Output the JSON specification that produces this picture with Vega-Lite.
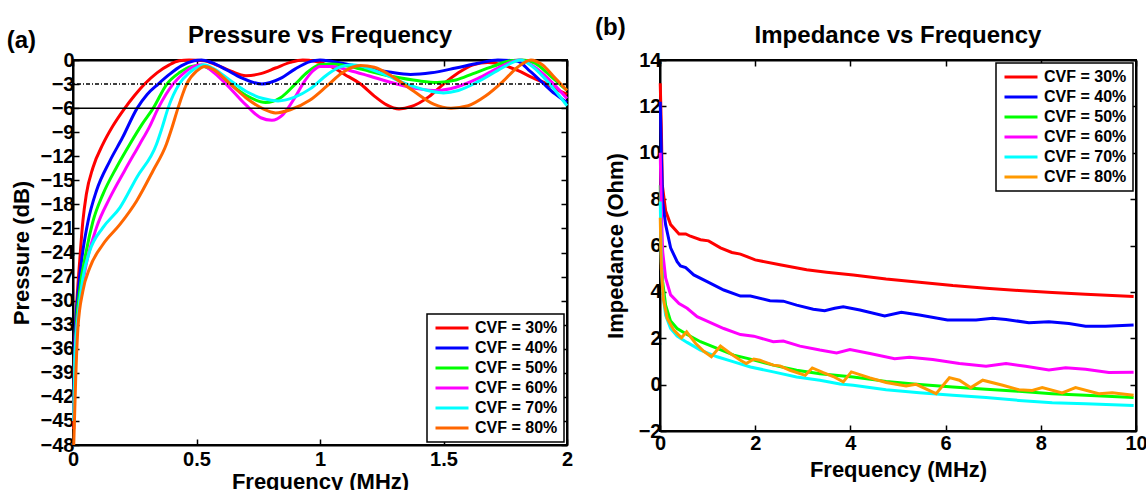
{
  "$schema": "https://vega.github.io/schema/vega-lite/v6.json",
  "background": "white",
  "padding": {"left": 5, "top": 14, "right": 0, "bottom": 0},
  "spacing": 19,
  "config": {
    "font": "Liberation Sans",
    "view": {"stroke": "black", "strokeWidth": 2},
    "axis": {"grid": false, "domainColor": "black", "domainWidth": 2, "tickColor": "black", "tickWidth": 1.5, "tickSize": -6, "labelFontSize": 20, "labelFontWeight": "bold", "labelColor": "black", "labelPadding": 5, "titleFontSize": 22, "titleFontWeight": "bold", "titleColor": "black", "titlePadding": 7, "labelFlush": false, "labelOverlap": false},
    "legend": {"strokeColor": "black", "fillColor": "white", "padding": 6, "symbolType": "M-1,0H5", "symbolSize": 121, "symbolStrokeWidth": 3, "labelFontSize": 16, "labelFontWeight": "bold", "labelColor": "black", "rowPadding": 4, "labelOffset": 26, "offset": 3, "strokeWidth": 1.5}
  },
  "datasets": {
    "labA": [{"label": "(a)"}],
    "labB": [{"label": "(b)"}],
    "titA": [{"label": "Pressure vs Frequency"}],
    "titB": [{"label": "Impedance vs Frequency"}],
    "refs": [{"db": -3, "kind": "dash"}, {"db": -6, "kind": "solid"}],
    "pressure": [
      {"cvf": "CVF = 30%", "f": 0.003, "db": -46}, {"cvf": "CVF = 30%", "f": 0.005, "db": -37.5}, {"cvf": "CVF = 30%", "f": 0.0135, "db": -31.3}, {"cvf": "CVF = 30%", "f": 0.027, "db": -25.1}, {"cvf": "CVF = 30%", "f": 0.04, "db": -20.1}, {"cvf": "CVF = 30%", "f": 0.054, "db": -16.75}, {"cvf": "CVF = 30%", "f": 0.081, "db": -13.4}, {"cvf": "CVF = 30%", "f": 0.121, "db": -10.5}, {"cvf": "CVF = 30%", "f": 0.16, "db": -8.3}, {"cvf": "CVF = 30%", "f": 0.21, "db": -6.0}, {"cvf": "CVF = 30%", "f": 0.25, "db": -4.4}, {"cvf": "CVF = 30%", "f": 0.29, "db": -3.0}, {"cvf": "CVF = 30%", "f": 0.34, "db": -1.6}, {"cvf": "CVF = 30%", "f": 0.39, "db": -0.6}, {"cvf": "CVF = 30%", "f": 0.43, "db": -0.1}, {"cvf": "CVF = 30%", "f": 0.47, "db": 0}, {"cvf": "CVF = 30%", "f": 0.53, "db": -0.1}, {"cvf": "CVF = 30%", "f": 0.58, "db": -0.6}, {"cvf": "CVF = 30%", "f": 0.64, "db": -1.4}, {"cvf": "CVF = 30%", "f": 0.70, "db": -1.95}, {"cvf": "CVF = 30%", "f": 0.76, "db": -1.7}, {"cvf": "CVF = 30%", "f": 0.82, "db": -1.0}, {"cvf": "CVF = 30%", "f": 0.88, "db": -0.3}, {"cvf": "CVF = 30%", "f": 0.93, "db": 0}, {"cvf": "CVF = 30%", "f": 0.98, "db": -0.15}, {"cvf": "CVF = 30%", "f": 1.05, "db": -0.9}, {"cvf": "CVF = 30%", "f": 1.10, "db": -1.8}, {"cvf": "CVF = 30%", "f": 1.164, "db": -3.0}, {"cvf": "CVF = 30%", "f": 1.22, "db": -4.5}, {"cvf": "CVF = 30%", "f": 1.27, "db": -5.6}, {"cvf": "CVF = 30%", "f": 1.32, "db": -6.1}, {"cvf": "CVF = 30%", "f": 1.37, "db": -5.8}, {"cvf": "CVF = 30%", "f": 1.44, "db": -4.6}, {"cvf": "CVF = 30%", "f": 1.50, "db": -3.0}, {"cvf": "CVF = 30%", "f": 1.56, "db": -1.6}, {"cvf": "CVF = 30%", "f": 1.62, "db": -0.6}, {"cvf": "CVF = 30%", "f": 1.68, "db": -0.3}, {"cvf": "CVF = 30%", "f": 1.74, "db": -0.6}, {"cvf": "CVF = 30%", "f": 1.80, "db": -1.3}, {"cvf": "CVF = 30%", "f": 1.86, "db": -2.2}, {"cvf": "CVF = 30%", "f": 1.92, "db": -3.0}, {"cvf": "CVF = 30%", "f": 1.96, "db": -3.7}, {"cvf": "CVF = 30%", "f": 2.0, "db": -4.3},
      {"cvf": "CVF = 40%", "f": 0.003, "db": -44}, {"cvf": "CVF = 40%", "f": 0.007, "db": -35.4}, {"cvf": "CVF = 40%", "f": 0.02, "db": -29.2}, {"cvf": "CVF = 40%", "f": 0.04, "db": -23.8}, {"cvf": "CVF = 40%", "f": 0.061, "db": -20.1}, {"cvf": "CVF = 40%", "f": 0.095, "db": -16.3}, {"cvf": "CVF = 40%", "f": 0.149, "db": -12.6}, {"cvf": "CVF = 40%", "f": 0.2, "db": -9.7}, {"cvf": "CVF = 40%", "f": 0.26, "db": -6.0}, {"cvf": "CVF = 40%", "f": 0.30, "db": -4.3}, {"cvf": "CVF = 40%", "f": 0.345, "db": -3.0}, {"cvf": "CVF = 40%", "f": 0.39, "db": -1.8}, {"cvf": "CVF = 40%", "f": 0.44, "db": -0.7}, {"cvf": "CVF = 40%", "f": 0.49, "db": -0.1}, {"cvf": "CVF = 40%", "f": 0.52, "db": 0}, {"cvf": "CVF = 40%", "f": 0.56, "db": -0.3}, {"cvf": "CVF = 40%", "f": 0.62, "db": -1.2}, {"cvf": "CVF = 40%", "f": 0.68, "db": -2.2}, {"cvf": "CVF = 40%", "f": 0.765, "db": -3.0}, {"cvf": "CVF = 40%", "f": 0.84, "db": -2.3}, {"cvf": "CVF = 40%", "f": 0.90, "db": -1.1}, {"cvf": "CVF = 40%", "f": 0.96, "db": -0.2}, {"cvf": "CVF = 40%", "f": 1.0, "db": 0}, {"cvf": "CVF = 40%", "f": 1.05, "db": -0.2}, {"cvf": "CVF = 40%", "f": 1.12, "db": -0.6}, {"cvf": "CVF = 40%", "f": 1.2, "db": -1.1}, {"cvf": "CVF = 40%", "f": 1.28, "db": -1.5}, {"cvf": "CVF = 40%", "f": 1.366, "db": -1.8}, {"cvf": "CVF = 40%", "f": 1.45, "db": -1.6}, {"cvf": "CVF = 40%", "f": 1.55, "db": -1.0}, {"cvf": "CVF = 40%", "f": 1.64, "db": -0.4}, {"cvf": "CVF = 40%", "f": 1.72, "db": 0}, {"cvf": "CVF = 40%", "f": 1.80, "db": -0.15}, {"cvf": "CVF = 40%", "f": 1.85, "db": -1.4}, {"cvf": "CVF = 40%", "f": 1.90, "db": -2.8}, {"cvf": "CVF = 40%", "f": 1.95, "db": -4.2}, {"cvf": "CVF = 40%", "f": 2.0, "db": -5.3},
      {"cvf": "CVF = 50%", "f": 0.003, "db": -45}, {"cvf": "CVF = 50%", "f": 0.011, "db": -34.6}, {"cvf": "CVF = 50%", "f": 0.027, "db": -28.8}, {"cvf": "CVF = 50%", "f": 0.054, "db": -23.8}, {"cvf": "CVF = 50%", "f": 0.081, "db": -20.1}, {"cvf": "CVF = 50%", "f": 0.121, "db": -16.75}, {"cvf": "CVF = 50%", "f": 0.176, "db": -13.4}, {"cvf": "CVF = 50%", "f": 0.23, "db": -10.5}, {"cvf": "CVF = 50%", "f": 0.28, "db": -8.0}, {"cvf": "CVF = 50%", "f": 0.325, "db": -6.0}, {"cvf": "CVF = 50%", "f": 0.38, "db": -3.0}, {"cvf": "CVF = 50%", "f": 0.43, "db": -1.6}, {"cvf": "CVF = 50%", "f": 0.48, "db": -0.8}, {"cvf": "CVF = 50%", "f": 0.51, "db": -0.7}, {"cvf": "CVF = 50%", "f": 0.56, "db": -1.2}, {"cvf": "CVF = 50%", "f": 0.62, "db": -2.6}, {"cvf": "CVF = 50%", "f": 0.70, "db": -4.4}, {"cvf": "CVF = 50%", "f": 0.78, "db": -5.3}, {"cvf": "CVF = 50%", "f": 0.84, "db": -4.7}, {"cvf": "CVF = 50%", "f": 0.90, "db": -3.0}, {"cvf": "CVF = 50%", "f": 0.95, "db": -1.5}, {"cvf": "CVF = 50%", "f": 1.0, "db": -0.6}, {"cvf": "CVF = 50%", "f": 1.05, "db": -0.5}, {"cvf": "CVF = 50%", "f": 1.12, "db": -0.8}, {"cvf": "CVF = 50%", "f": 1.2, "db": -1.4}, {"cvf": "CVF = 50%", "f": 1.3, "db": -2.1}, {"cvf": "CVF = 50%", "f": 1.4, "db": -2.6}, {"cvf": "CVF = 50%", "f": 1.475, "db": -2.8}, {"cvf": "CVF = 50%", "f": 1.55, "db": -2.5}, {"cvf": "CVF = 50%", "f": 1.62, "db": -1.7}, {"cvf": "CVF = 50%", "f": 1.70, "db": -0.8}, {"cvf": "CVF = 50%", "f": 1.77, "db": -0.1}, {"cvf": "CVF = 50%", "f": 1.82, "db": 0}, {"cvf": "CVF = 50%", "f": 1.87, "db": -0.4}, {"cvf": "CVF = 50%", "f": 1.93, "db": -1.9}, {"cvf": "CVF = 50%", "f": 2.0, "db": -3.8},
      {"cvf": "CVF = 60%", "f": 0.003, "db": -45}, {"cvf": "CVF = 60%", "f": 0.011, "db": -35.4}, {"cvf": "CVF = 60%", "f": 0.027, "db": -30.4}, {"cvf": "CVF = 60%", "f": 0.054, "db": -25.4}, {"cvf": "CVF = 60%", "f": 0.095, "db": -20.9}, {"cvf": "CVF = 60%", "f": 0.149, "db": -17.2}, {"cvf": "CVF = 60%", "f": 0.209, "db": -13.8}, {"cvf": "CVF = 60%", "f": 0.27, "db": -10.5}, {"cvf": "CVF = 60%", "f": 0.31, "db": -8.3}, {"cvf": "CVF = 60%", "f": 0.345, "db": -6.0}, {"cvf": "CVF = 60%", "f": 0.405, "db": -3.0}, {"cvf": "CVF = 60%", "f": 0.45, "db": -1.6}, {"cvf": "CVF = 60%", "f": 0.49, "db": -0.8}, {"cvf": "CVF = 60%", "f": 0.52, "db": -0.6}, {"cvf": "CVF = 60%", "f": 0.56, "db": -1.3}, {"cvf": "CVF = 60%", "f": 0.62, "db": -3.0}, {"cvf": "CVF = 60%", "f": 0.70, "db": -5.6}, {"cvf": "CVF = 60%", "f": 0.76, "db": -7.2}, {"cvf": "CVF = 60%", "f": 0.805, "db": -7.5}, {"cvf": "CVF = 60%", "f": 0.85, "db": -6.8}, {"cvf": "CVF = 60%", "f": 0.90, "db": -4.6}, {"cvf": "CVF = 60%", "f": 0.93, "db": -3.0}, {"cvf": "CVF = 60%", "f": 0.97, "db": -1.4}, {"cvf": "CVF = 60%", "f": 1.0, "db": -0.8}, {"cvf": "CVF = 60%", "f": 1.05, "db": -0.8}, {"cvf": "CVF = 60%", "f": 1.12, "db": -1.3}, {"cvf": "CVF = 60%", "f": 1.2, "db": -2.0}, {"cvf": "CVF = 60%", "f": 1.3, "db": -2.9}, {"cvf": "CVF = 60%", "f": 1.4, "db": -3.6}, {"cvf": "CVF = 60%", "f": 1.475, "db": -3.8}, {"cvf": "CVF = 60%", "f": 1.55, "db": -3.4}, {"cvf": "CVF = 60%", "f": 1.64, "db": -2.3}, {"cvf": "CVF = 60%", "f": 1.72, "db": -1.0}, {"cvf": "CVF = 60%", "f": 1.78, "db": -0.2}, {"cvf": "CVF = 60%", "f": 1.81, "db": 0}, {"cvf": "CVF = 60%", "f": 1.86, "db": -0.7}, {"cvf": "CVF = 60%", "f": 1.93, "db": -2.5}, {"cvf": "CVF = 60%", "f": 2.0, "db": -4.8},
      {"cvf": "CVF = 70%", "f": 0.003, "db": -45}, {"cvf": "CVF = 70%", "f": 0.007, "db": -37.5}, {"cvf": "CVF = 70%", "f": 0.02, "db": -32.1}, {"cvf": "CVF = 70%", "f": 0.04, "db": -27.2}, {"cvf": "CVF = 70%", "f": 0.068, "db": -23.8}, {"cvf": "CVF = 70%", "f": 0.121, "db": -20.9}, {"cvf": "CVF = 70%", "f": 0.19, "db": -18.4}, {"cvf": "CVF = 70%", "f": 0.257, "db": -14.7}, {"cvf": "CVF = 70%", "f": 0.338, "db": -10.5}, {"cvf": "CVF = 70%", "f": 0.36, "db": -8.5}, {"cvf": "CVF = 70%", "f": 0.385, "db": -6.0}, {"cvf": "CVF = 70%", "f": 0.43, "db": -3.0}, {"cvf": "CVF = 70%", "f": 0.47, "db": -1.6}, {"cvf": "CVF = 70%", "f": 0.51, "db": -0.8}, {"cvf": "CVF = 70%", "f": 0.53, "db": -0.6}, {"cvf": "CVF = 70%", "f": 0.57, "db": -1.1}, {"cvf": "CVF = 70%", "f": 0.63, "db": -2.4}, {"cvf": "CVF = 70%", "f": 0.70, "db": -3.9}, {"cvf": "CVF = 70%", "f": 0.77, "db": -4.8}, {"cvf": "CVF = 70%", "f": 0.83, "db": -5.1}, {"cvf": "CVF = 70%", "f": 0.90, "db": -4.6}, {"cvf": "CVF = 70%", "f": 0.96, "db": -3.6}, {"cvf": "CVF = 70%", "f": 1.03, "db": -1.8}, {"cvf": "CVF = 70%", "f": 1.08, "db": -0.9}, {"cvf": "CVF = 70%", "f": 1.13, "db": -0.6}, {"cvf": "CVF = 70%", "f": 1.18, "db": -0.9}, {"cvf": "CVF = 70%", "f": 1.26, "db": -1.8}, {"cvf": "CVF = 70%", "f": 1.36, "db": -3.1}, {"cvf": "CVF = 70%", "f": 1.45, "db": -3.9}, {"cvf": "CVF = 70%", "f": 1.50, "db": -4.1}, {"cvf": "CVF = 70%", "f": 1.56, "db": -3.8}, {"cvf": "CVF = 70%", "f": 1.64, "db": -2.7}, {"cvf": "CVF = 70%", "f": 1.72, "db": -1.3}, {"cvf": "CVF = 70%", "f": 1.78, "db": -0.3}, {"cvf": "CVF = 70%", "f": 1.81, "db": 0}, {"cvf": "CVF = 70%", "f": 1.86, "db": -0.8}, {"cvf": "CVF = 70%", "f": 1.93, "db": -3.0}, {"cvf": "CVF = 70%", "f": 2.0, "db": -5.7},
      {"cvf": "CVF = 80%", "f": 0.003, "db": -48}, {"cvf": "CVF = 80%", "f": 0.011, "db": -39.6}, {"cvf": "CVF = 80%", "f": 0.02, "db": -33.4}, {"cvf": "CVF = 80%", "f": 0.04, "db": -28.8}, {"cvf": "CVF = 80%", "f": 0.068, "db": -25.9}, {"cvf": "CVF = 80%", "f": 0.121, "db": -23.0}, {"cvf": "CVF = 80%", "f": 0.19, "db": -20.5}, {"cvf": "CVF = 80%", "f": 0.257, "db": -17.6}, {"cvf": "CVF = 80%", "f": 0.324, "db": -13.8}, {"cvf": "CVF = 80%", "f": 0.378, "db": -10.5}, {"cvf": "CVF = 80%", "f": 0.40, "db": -8.5}, {"cvf": "CVF = 80%", "f": 0.425, "db": -6.0}, {"cvf": "CVF = 80%", "f": 0.46, "db": -3.0}, {"cvf": "CVF = 80%", "f": 0.50, "db": -1.4}, {"cvf": "CVF = 80%", "f": 0.535, "db": -0.8}, {"cvf": "CVF = 80%", "f": 0.57, "db": -1.2}, {"cvf": "CVF = 80%", "f": 0.63, "db": -2.8}, {"cvf": "CVF = 80%", "f": 0.70, "db": -4.7}, {"cvf": "CVF = 80%", "f": 0.77, "db": -6.1}, {"cvf": "CVF = 80%", "f": 0.82, "db": -6.6}, {"cvf": "CVF = 80%", "f": 0.88, "db": -6.2}, {"cvf": "CVF = 80%", "f": 0.96, "db": -5.0}, {"cvf": "CVF = 80%", "f": 1.03, "db": -3.2}, {"cvf": "CVF = 80%", "f": 1.09, "db": -1.6}, {"cvf": "CVF = 80%", "f": 1.164, "db": -0.7}, {"cvf": "CVF = 80%", "f": 1.22, "db": -0.9}, {"cvf": "CVF = 80%", "f": 1.30, "db": -2.2}, {"cvf": "CVF = 80%", "f": 1.38, "db": -3.9}, {"cvf": "CVF = 80%", "f": 1.46, "db": -5.5}, {"cvf": "CVF = 80%", "f": 1.53, "db": -6.0}, {"cvf": "CVF = 80%", "f": 1.60, "db": -5.7}, {"cvf": "CVF = 80%", "f": 1.67, "db": -4.5}, {"cvf": "CVF = 80%", "f": 1.74, "db": -2.7}, {"cvf": "CVF = 80%", "f": 1.80, "db": -0.9}, {"cvf": "CVF = 80%", "f": 1.854, "db": 0}, {"cvf": "CVF = 80%", "f": 1.90, "db": -0.6}, {"cvf": "CVF = 80%", "f": 1.95, "db": -2.2}, {"cvf": "CVF = 80%", "f": 2.0, "db": -3.8}
    ],
    "impedance": [
      {"cvf": "CVF = 30%", "f": 0.005, "z": 13.0}, {"cvf": "CVF = 30%", "f": 0.028, "z": 11.1}, {"cvf": "CVF = 30%", "f": 0.049, "z": 8.6}, {"cvf": "CVF = 30%", "f": 0.118, "z": 7.5}, {"cvf": "CVF = 30%", "f": 0.223, "z": 6.9}, {"cvf": "CVF = 30%", "f": 0.40, "z": 6.5}, {"cvf": "CVF = 30%", "f": 0.54, "z": 6.5}, {"cvf": "CVF = 30%", "f": 0.64, "z": 6.4}, {"cvf": "CVF = 30%", "f": 0.85, "z": 6.25}, {"cvf": "CVF = 30%", "f": 1.02, "z": 6.2}, {"cvf": "CVF = 30%", "f": 1.27, "z": 5.9}, {"cvf": "CVF = 30%", "f": 1.51, "z": 5.7}, {"cvf": "CVF = 30%", "f": 1.69, "z": 5.63}, {"cvf": "CVF = 30%", "f": 2.0, "z": 5.38}, {"cvf": "CVF = 30%", "f": 2.52, "z": 5.17}, {"cvf": "CVF = 30%", "f": 3.08, "z": 4.95}, {"cvf": "CVF = 30%", "f": 3.5, "z": 4.85}, {"cvf": "CVF = 30%", "f": 4.06, "z": 4.73}, {"cvf": "CVF = 30%", "f": 4.75, "z": 4.56}, {"cvf": "CVF = 30%", "f": 5.45, "z": 4.42}, {"cvf": "CVF = 30%", "f": 6.15, "z": 4.27}, {"cvf": "CVF = 30%", "f": 6.85, "z": 4.16}, {"cvf": "CVF = 30%", "f": 7.54, "z": 4.06}, {"cvf": "CVF = 30%", "f": 8.24, "z": 3.97}, {"cvf": "CVF = 30%", "f": 8.94, "z": 3.9}, {"cvf": "CVF = 30%", "f": 9.95, "z": 3.8},
      {"cvf": "CVF = 40%", "f": 0.005, "z": 12.2}, {"cvf": "CVF = 40%", "f": 0.028, "z": 10.0}, {"cvf": "CVF = 40%", "f": 0.056, "z": 7.9}, {"cvf": "CVF = 40%", "f": 0.118, "z": 6.9}, {"cvf": "CVF = 40%", "f": 0.223, "z": 5.9}, {"cvf": "CVF = 40%", "f": 0.36, "z": 5.3}, {"cvf": "CVF = 40%", "f": 0.43, "z": 5.12}, {"cvf": "CVF = 40%", "f": 0.54, "z": 5.05}, {"cvf": "CVF = 40%", "f": 0.71, "z": 4.73}, {"cvf": "CVF = 40%", "f": 0.99, "z": 4.44}, {"cvf": "CVF = 40%", "f": 1.34, "z": 4.08}, {"cvf": "CVF = 40%", "f": 1.69, "z": 3.82}, {"cvf": "CVF = 40%", "f": 1.9, "z": 3.82}, {"cvf": "CVF = 40%", "f": 2.31, "z": 3.62}, {"cvf": "CVF = 40%", "f": 2.59, "z": 3.6}, {"cvf": "CVF = 40%", "f": 2.87, "z": 3.43}, {"cvf": "CVF = 40%", "f": 3.22, "z": 3.25}, {"cvf": "CVF = 40%", "f": 3.46, "z": 3.19}, {"cvf": "CVF = 40%", "f": 3.67, "z": 3.29}, {"cvf": "CVF = 40%", "f": 3.85, "z": 3.36}, {"cvf": "CVF = 40%", "f": 4.2, "z": 3.22}, {"cvf": "CVF = 40%", "f": 4.72, "z": 2.96}, {"cvf": "CVF = 40%", "f": 5.07, "z": 3.12}, {"cvf": "CVF = 40%", "f": 5.45, "z": 3.0}, {"cvf": "CVF = 40%", "f": 6.04, "z": 2.79}, {"cvf": "CVF = 40%", "f": 6.64, "z": 2.79}, {"cvf": "CVF = 40%", "f": 6.99, "z": 2.86}, {"cvf": "CVF = 40%", "f": 7.27, "z": 2.81}, {"cvf": "CVF = 40%", "f": 7.75, "z": 2.67}, {"cvf": "CVF = 40%", "f": 8.17, "z": 2.71}, {"cvf": "CVF = 40%", "f": 8.59, "z": 2.64}, {"cvf": "CVF = 40%", "f": 8.94, "z": 2.52}, {"cvf": "CVF = 40%", "f": 9.36, "z": 2.52}, {"cvf": "CVF = 40%", "f": 9.95, "z": 2.57},
      {"cvf": "CVF = 50%", "f": 0.005, "z": 8.6}, {"cvf": "CVF = 50%", "f": 0.028, "z": 5.74}, {"cvf": "CVF = 50%", "f": 0.056, "z": 4.44}, {"cvf": "CVF = 50%", "f": 0.118, "z": 3.43}, {"cvf": "CVF = 50%", "f": 0.223, "z": 2.74}, {"cvf": "CVF = 50%", "f": 0.36, "z": 2.42}, {"cvf": "CVF = 50%", "f": 0.57, "z": 2.16}, {"cvf": "CVF = 50%", "f": 0.85, "z": 1.85}, {"cvf": "CVF = 50%", "f": 1.2, "z": 1.56}, {"cvf": "CVF = 50%", "f": 1.55, "z": 1.27}, {"cvf": "CVF = 50%", "f": 1.9, "z": 1.1}, {"cvf": "CVF = 50%", "f": 2.38, "z": 0.84}, {"cvf": "CVF = 50%", "f": 2.87, "z": 0.62}, {"cvf": "CVF = 50%", "f": 3.36, "z": 0.47}, {"cvf": "CVF = 50%", "f": 4.06, "z": 0.33}, {"cvf": "CVF = 50%", "f": 4.75, "z": 0.14}, {"cvf": "CVF = 50%", "f": 5.45, "z": 0.01}, {"cvf": "CVF = 50%", "f": 6.15, "z": -0.1}, {"cvf": "CVF = 50%", "f": 6.85, "z": -0.2}, {"cvf": "CVF = 50%", "f": 7.54, "z": -0.29}, {"cvf": "CVF = 50%", "f": 8.24, "z": -0.39}, {"cvf": "CVF = 50%", "f": 8.94, "z": -0.46}, {"cvf": "CVF = 50%", "f": 9.95, "z": -0.56},
      {"cvf": "CVF = 60%", "f": 0.005, "z": 10.0}, {"cvf": "CVF = 60%", "f": 0.028, "z": 7.5}, {"cvf": "CVF = 60%", "f": 0.056, "z": 5.74}, {"cvf": "CVF = 60%", "f": 0.118, "z": 4.6}, {"cvf": "CVF = 60%", "f": 0.223, "z": 3.87}, {"cvf": "CVF = 60%", "f": 0.4, "z": 3.5}, {"cvf": "CVF = 60%", "f": 0.57, "z": 3.29}, {"cvf": "CVF = 60%", "f": 0.78, "z": 2.93}, {"cvf": "CVF = 60%", "f": 0.99, "z": 2.74}, {"cvf": "CVF = 60%", "f": 1.34, "z": 2.42}, {"cvf": "CVF = 60%", "f": 1.69, "z": 2.16}, {"cvf": "CVF = 60%", "f": 1.97, "z": 2.09}, {"cvf": "CVF = 60%", "f": 2.38, "z": 1.85}, {"cvf": "CVF = 60%", "f": 2.59, "z": 1.88}, {"cvf": "CVF = 60%", "f": 2.94, "z": 1.66}, {"cvf": "CVF = 60%", "f": 3.36, "z": 1.49}, {"cvf": "CVF = 60%", "f": 3.71, "z": 1.37}, {"cvf": "CVF = 60%", "f": 3.99, "z": 1.51}, {"cvf": "CVF = 60%", "f": 4.41, "z": 1.34}, {"cvf": "CVF = 60%", "f": 4.93, "z": 1.12}, {"cvf": "CVF = 60%", "f": 5.24, "z": 1.18}, {"cvf": "CVF = 60%", "f": 5.73, "z": 1.08}, {"cvf": "CVF = 60%", "f": 6.29, "z": 0.91}, {"cvf": "CVF = 60%", "f": 6.85, "z": 0.79}, {"cvf": "CVF = 60%", "f": 7.27, "z": 0.91}, {"cvf": "CVF = 60%", "f": 7.68, "z": 0.79}, {"cvf": "CVF = 60%", "f": 8.17, "z": 0.63}, {"cvf": "CVF = 60%", "f": 8.52, "z": 0.73}, {"cvf": "CVF = 60%", "f": 8.94, "z": 0.66}, {"cvf": "CVF = 60%", "f": 9.43, "z": 0.52}, {"cvf": "CVF = 60%", "f": 9.95, "z": 0.53},
      {"cvf": "CVF = 70%", "f": 0.005, "z": 7.9}, {"cvf": "CVF = 70%", "f": 0.028, "z": 5.3}, {"cvf": "CVF = 70%", "f": 0.056, "z": 4.0}, {"cvf": "CVF = 70%", "f": 0.118, "z": 3.0}, {"cvf": "CVF = 70%", "f": 0.223, "z": 2.42}, {"cvf": "CVF = 70%", "f": 0.36, "z": 2.09}, {"cvf": "CVF = 70%", "f": 0.57, "z": 1.82}, {"cvf": "CVF = 70%", "f": 0.85, "z": 1.49}, {"cvf": "CVF = 70%", "f": 1.2, "z": 1.2}, {"cvf": "CVF = 70%", "f": 1.55, "z": 0.98}, {"cvf": "CVF = 70%", "f": 1.9, "z": 0.76}, {"cvf": "CVF = 70%", "f": 2.38, "z": 0.55}, {"cvf": "CVF = 70%", "f": 2.87, "z": 0.33}, {"cvf": "CVF = 70%", "f": 3.36, "z": 0.19}, {"cvf": "CVF = 70%", "f": 3.78, "z": 0.03}, {"cvf": "CVF = 70%", "f": 4.06, "z": -0.03}, {"cvf": "CVF = 70%", "f": 4.75, "z": -0.22}, {"cvf": "CVF = 70%", "f": 5.45, "z": -0.35}, {"cvf": "CVF = 70%", "f": 6.15, "z": -0.46}, {"cvf": "CVF = 70%", "f": 6.85, "z": -0.56}, {"cvf": "CVF = 70%", "f": 7.54, "z": -0.68}, {"cvf": "CVF = 70%", "f": 8.24, "z": -0.78}, {"cvf": "CVF = 70%", "f": 8.94, "z": -0.82}, {"cvf": "CVF = 70%", "f": 9.95, "z": -0.9},
      {"cvf": "CVF = 80%", "f": 0.005, "z": 7.2}, {"cvf": "CVF = 80%", "f": 0.028, "z": 5.0}, {"cvf": "CVF = 80%", "f": 0.07, "z": 3.7}, {"cvf": "CVF = 80%", "f": 0.15, "z": 2.86}, {"cvf": "CVF = 80%", "f": 0.29, "z": 2.35}, {"cvf": "CVF = 80%", "f": 0.45, "z": 2.02}, {"cvf": "CVF = 80%", "f": 0.56, "z": 2.28}, {"cvf": "CVF = 80%", "f": 0.75, "z": 1.77}, {"cvf": "CVF = 80%", "f": 0.92, "z": 1.44}, {"cvf": "CVF = 80%", "f": 1.08, "z": 1.2}, {"cvf": "CVF = 80%", "f": 1.27, "z": 1.66}, {"cvf": "CVF = 80%", "f": 1.48, "z": 1.34}, {"cvf": "CVF = 80%", "f": 1.69, "z": 1.05}, {"cvf": "CVF = 80%", "f": 1.81, "z": 0.91}, {"cvf": "CVF = 80%", "f": 1.97, "z": 1.1}, {"cvf": "CVF = 80%", "f": 2.1, "z": 1.05}, {"cvf": "CVF = 80%", "f": 2.38, "z": 0.84}, {"cvf": "CVF = 80%", "f": 2.52, "z": 0.81}, {"cvf": "CVF = 80%", "f": 2.73, "z": 0.62}, {"cvf": "CVF = 80%", "f": 3.05, "z": 0.4}, {"cvf": "CVF = 80%", "f": 3.2, "z": 0.72}, {"cvf": "CVF = 80%", "f": 3.43, "z": 0.52}, {"cvf": "CVF = 80%", "f": 3.64, "z": 0.35}, {"cvf": "CVF = 80%", "f": 3.85, "z": 0.12}, {"cvf": "CVF = 80%", "f": 4.02, "z": 0.55}, {"cvf": "CVF = 80%", "f": 4.41, "z": 0.29}, {"cvf": "CVF = 80%", "f": 4.75, "z": 0.09}, {"cvf": "CVF = 80%", "f": 5.17, "z": -0.06}, {"cvf": "CVF = 80%", "f": 5.38, "z": 0.01}, {"cvf": "CVF = 80%", "f": 5.8, "z": -0.39}, {"cvf": "CVF = 80%", "f": 6.08, "z": 0.3}, {"cvf": "CVF = 80%", "f": 6.29, "z": 0.19}, {"cvf": "CVF = 80%", "f": 6.53, "z": -0.13}, {"cvf": "CVF = 80%", "f": 6.78, "z": 0.19}, {"cvf": "CVF = 80%", "f": 7.2, "z": -0.03}, {"cvf": "CVF = 80%", "f": 7.54, "z": -0.22}, {"cvf": "CVF = 80%", "f": 7.82, "z": -0.25}, {"cvf": "CVF = 80%", "f": 8.03, "z": -0.13}, {"cvf": "CVF = 80%", "f": 8.45, "z": -0.36}, {"cvf": "CVF = 80%", "f": 8.73, "z": -0.13}, {"cvf": "CVF = 80%", "f": 9.22, "z": -0.39}, {"cvf": "CVF = 80%", "f": 9.5, "z": -0.35}, {"cvf": "CVF = 80%", "f": 9.95, "z": -0.46}
    ]
  },
  "resolve": {"scale": {"x": "independent", "y": "independent", "color": "independent"}, "legend": {"color": "independent"}},
  "hconcat": [
    {
      "width": 494,
      "height": 385,
      "resolve": {"axis": {"x": "independent", "y": "independent"}},
      "layer": [
        {
          "data": {"name": "pressure"},
          "mark": {"type": "line", "strokeWidth": 3, "interpolate": "monotone"},
          "encoding": {
            "x": {"field": "f", "type": "quantitative", "scale": {"domain": [0, 2], "nice": false}, "axis": {"orient": "bottom", "title": "Frequency (MHz)", "values": [0, 0.5, 1, 1.5, 2], "format": "~g", "labelPadding": 10, "titlePadding": 2}},
            "y": {"field": "db", "type": "quantitative", "scale": {"domain": [-48, 0], "nice": false, "zero": false}, "axis": {"orient": "left", "title": "Pressure (dB)", "values": [0, -3, -6, -9, -12, -15, -18, -21, -24, -27, -30, -33, -36, -39, -42, -45, -48]}},
            "color": {"field": "cvf", "type": "nominal", "scale": {"domain": ["CVF = 30%", "CVF = 40%", "CVF = 50%", "CVF = 60%", "CVF = 70%", "CVF = 80%"], "range": ["#ff0000", "#0000ff", "#00ff00", "#ff00ff", "#00ffff", "#ff6600"]}, "legend": {"title": null, "orient": "bottom-right"}}
          }
        },
        {
          "data": {"name": "refs"},
          "mark": {"type": "rule", "color": "black", "strokeWidth": 1.5},
          "encoding": {
            "y": {"field": "db", "type": "quantitative", "axis": null},
            "strokeDash": {"field": "kind", "type": "nominal", "scale": {"domain": ["dash", "solid"], "range": [[4, 2, 1, 2], [1, 0]]}, "legend": null}
          }
        },
        {
          "data": {"name": "pressure"},
          "mark": {"type": "point", "opacity": 0},
          "encoding": {
            "x": {"field": "f", "type": "quantitative", "axis": {"orient": "top", "labels": false, "title": null, "values": [0, 0.5, 1, 1.5, 2]}},
            "y": {"field": "db", "type": "quantitative", "axis": {"orient": "right", "labels": false, "title": null, "values": [0, -3, -6, -9, -12, -15, -18, -21, -24, -27, -30, -33, -36, -39, -42, -45, -48]}}
          }
        },
        {
          "data": {"name": "labA"},
          "mark": {"type": "text", "fontSize": 24, "fontWeight": "bold", "align": "left", "baseline": "alphabetic", "color": "black"},
          "encoding": {
            "x": {"datum": -0.2684, "type": "quantitative", "axis": null},
            "y": {"datum": 1.47, "type": "quantitative", "axis": null},
            "text": {"field": "label"}
          }
        },
        {
          "data": {"name": "titA"},
          "mark": {"type": "text", "fontSize": 24, "fontWeight": "bold", "align": "center", "baseline": "alphabetic", "color": "black"},
          "encoding": {
            "x": {"datum": 1.0, "type": "quantitative", "axis": null},
            "y": {"datum": 2.16, "type": "quantitative", "axis": null},
            "text": {"field": "label"}
          }
        }
      ]
    },
    {
      "width": 476,
      "height": 371,
      "resolve": {"axis": {"x": "independent", "y": "independent"}},
      "layer": [
        {
          "data": {"name": "impedance"},
          "mark": {"type": "line", "strokeWidth": 3},
          "encoding": {
            "x": {"field": "f", "type": "quantitative", "scale": {"domain": [0, 10], "nice": false}, "axis": {"orient": "bottom", "title": "Frequency (MHz)", "values": [0, 2, 4, 6, 8, 10], "labelPadding": 8, "titlePadding": 6}},
            "y": {"field": "z", "type": "quantitative", "scale": {"domain": [-2, 14], "nice": false, "zero": false}, "axis": {"orient": "left", "title": "Impedance (Ohm)", "titlePadding": 11, "values": [-2, 0, 2, 4, 6, 8, 10, 12, 14]}},
            "color": {"field": "cvf", "type": "nominal", "scale": {"domain": ["CVF = 30%", "CVF = 40%", "CVF = 50%", "CVF = 60%", "CVF = 70%", "CVF = 80%"], "range": ["#ff0000", "#0000ff", "#00ff00", "#ff00ff", "#00ffff", "#ff9900"]}, "legend": {"title": null, "orient": "top-right"}}
          }
        },
        {
          "data": {"name": "impedance"},
          "mark": {"type": "point", "opacity": 0},
          "encoding": {
            "x": {"field": "f", "type": "quantitative", "axis": {"orient": "top", "labels": false, "title": null, "values": [0, 2, 4, 6, 8, 10]}},
            "y": {"field": "z", "type": "quantitative", "axis": {"orient": "right", "labels": false, "title": null, "values": [-2, 0, 2, 4, 6, 8, 10, 12, 14]}}
          }
        },
        {
          "data": {"name": "labB"},
          "mark": {"type": "text", "fontSize": 24, "fontWeight": "bold", "align": "left", "baseline": "alphabetic", "color": "black"},
          "encoding": {
            "x": {"datum": -1.366, "type": "quantitative", "axis": null},
            "y": {"datum": 15.08, "type": "quantitative", "axis": null},
            "text": {"field": "label"}
          }
        },
        {
          "data": {"name": "titB"},
          "mark": {"type": "text", "fontSize": 24, "fontWeight": "bold", "align": "center", "baseline": "alphabetic", "color": "black"},
          "encoding": {
            "x": {"datum": 5, "type": "quantitative", "axis": null},
            "y": {"datum": 14.746, "type": "quantitative", "axis": null},
            "text": {"field": "label"}
          }
        }
      ]
    }
  ]
}
